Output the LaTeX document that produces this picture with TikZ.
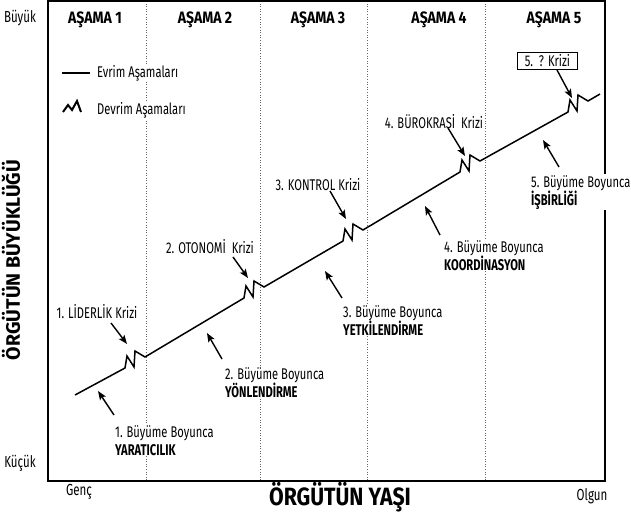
\documentclass[tikz,border=0pt]{standalone}
\usepackage{fontspec}
\setmainfont{Fira Sans}[FakeStretch=0.72]
\newfontfamily\semicond{Fira Sans}[FakeStretch=0.85]
\newfontfamily\fullwidth{Fira Sans}
\usetikzlibrary{arrows.meta}
\begin{document}
\begin{tikzpicture}[x=1pt,y=-1pt,
  txt/.style={font=\fontsize{15.5}{18}\selectfont, fill=white, inner sep=1pt, align=left},
  hdr/.style={font=\semicond\fontsize{16.5}{19}\selectfont\bfseries, inner sep=1pt},
  axis/.style={font=\fontsize{16}{18}\selectfont, inner sep=1pt},
  pointer/.style={line width=1.4pt, -{Stealth[length=9pt,width=7pt,inset=2pt]}},
  phase/.style={black!60, line width=0.6pt, dotted},
  growth/.style={line width=1.5pt, line join=miter},
  zz/.style={insert path={-- ++(2,-12) -- ++(7,11) -- ++(1,-16) -- ++(10,6)}},
]
\useasboundingbox (0,0) rectangle (631,517);

% stage dividers and frame
\foreach \x in {146,260,367,485} \draw[phase] (\x,1) -- (\x,481);
\draw[line width=1.2pt] (48,1) rectangle (605,481);

% growth curve: evolution segments joined by revolution zigzags
\draw[growth] (75,395) -- (125,368) [zz] -- (244,298) [zz] -- (343,241) [zz]
  -- (460,172) [zz] -- (568,112) [zz] -- (600,94);

% axis labels
\node[axis] (big) at (20,18) {Büyük};
\node[axis] (small) at (20,463) {Küçük};
\node[axis] (young) at (79,492) {Genç};
\node[axis] (mature) at (592,496) {Olgun};
\node[font=\semicond\fontsize{25}{28}\selectfont\bfseries] (age) at (340,497) {ÖRGÜTÜN YAŞI};
\node[font=\fullwidth\fontsize{19.5}{22}\selectfont\bfseries, rotate=90] (size) at (11,260) {ÖRGÜTÜN BÜYÜKLÜĞÜ};

% stage headers
\node[hdr] (s1) at (95,20) {AŞAMA 1};
\node[hdr] (s2) at (205,20) {AŞAMA 2};
\node[hdr] (s3) at (318,20) {AŞAMA 3};
\node[hdr] (s4) at (439,20) {AŞAMA 4};
\node[hdr] (s5) at (554,20) {AŞAMA 5};

% legend
\coordinate (evoA) at (62,73);
\coordinate (evoB) at (90,73);
\draw[line width=2pt] (evoA) -- (evoB);
\node[txt, anchor=west] (evo) at (96,73) {Evrim Aşamaları};
\draw[line width=2pt, line join=miter] (63,112) -- (68,105) -- (72,110) -- (77,101) -- (81,112);
\node[txt, anchor=west] (rev) at (96,110) {Devrim Aşamaları};

% crises
\node[txt] (c1) at (97,312) {1. LİDERLİK Krizi};
\node[txt] (c2) at (210,247) {2. OTONOMİ\ \ Krizi};
\node[txt] (c3) at (318,185) {3. KONTROL Krizi};
\node[txt] (c4) at (434,122) {4. BÜROKRASİ\ \ Krizi};
\node[txt, draw, line width=0.8pt, anchor=west, inner sep=1.5pt, minimum width=60pt, minimum height=17pt] (c5) at (517,60.5) {5.\ \ ? Krizi};

% growth themes
\node[txt, anchor=north west] (g1) at (114,424) {1. Büyüme Boyunca\\\textbf{YARATICILIK}};
\node[txt, anchor=north west] (g2) at (224,366) {2. Büyüme Boyunca\\\textbf{YÖNLENDİRME}};
\node[txt, anchor=north west] (g3) at (342,304) {3. Büyüme Boyunca\\\textbf{YETKİLENDİRME}};
\node[txt, anchor=north west] (g4) at (443,239) {4. Büyüme Boyunca\\\textbf{KOORDİNASYON}};
\node[txt, anchor=north west] (g5) at (530,174) {5. Büyüme Boyunca\\\textbf{İŞBİRLİĞİ}};

% pointer ends
\coordinate (c1t) at (111,323); \coordinate (c1h) at (127,344);
\coordinate (c2t) at (233,257); \coordinate (c2h) at (248,278);
\coordinate (c3t) at (330,191); \coordinate (c3h) at (346,219);
\coordinate (c4t) at (448,128); \coordinate (c4h) at (465,156);
\coordinate (c5t) at (557,70);  \coordinate (c5h) at (572,98);
\coordinate (g1t) at (114,415); \coordinate (g1h) at (98,391);
\coordinate (g2t) at (222,359); \coordinate (g2h) at (207,333);
\coordinate (g3t) at (342,298); \coordinate (g3h) at (325,271);
\coordinate (g4t) at (440,235); \coordinate (g4h) at (425,206);
\coordinate (g5t) at (559,167); \coordinate (g5h) at (543,140);
\foreach \p in {c1,c2,c3,c4,c5,g1,g2,g3,g4,g5}
  \draw[pointer] (\p t) -- (\p h);
\end{tikzpicture}
\end{document}
